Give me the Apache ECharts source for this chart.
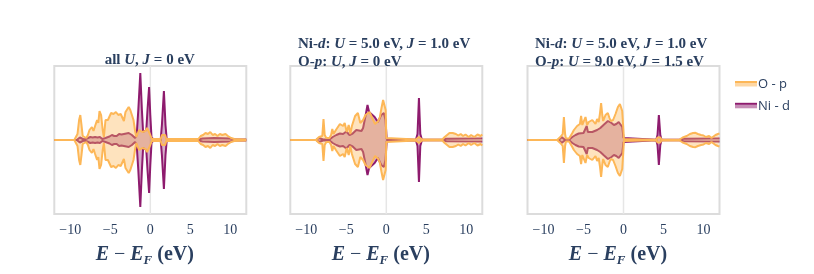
<!DOCTYPE html>
<html><head><meta charset="utf-8">
<script src="https://cdn.jsdelivr.net/npm/echarts@6/dist/echarts.min.js"></script>
<style>html,body{margin:0;padding:0;background:#fff}#c{width:814px;height:274px}</style>
</head><body><div id="c"></div>
<script>
// ---- data: [energy (eV), DOS] pairs; spin-down channel is the mirror ----
const xTickValues = [-10, -5, 0, 5, 10];
const legendNames = ['O - p', 'Ni - d'];

const opDos1 = [[-12,0],[-9.5,0],[-9.3,0.2],[-9.1,0.6],[-8.9,2.0],[-8.75,2.5],[-8.6,1.5],[-8.45,0.4],[-8.3,0.2],[-8.0,0.2],[-7.8,0.5],[-7.6,1.0],[-7.3,1.3],[-7.1,0.9],[-6.9,1.4],[-6.65,2.0],[-6.5,1.7],[-6.35,2.9],[-6.15,2.5],[-5.95,1.0],[-5.8,0.3],[-5.7,0.3],[-5.6,2.0],[-5.3,2.0],[-5.1,2.1],[-4.9,2.7],[-4.6,2.6],[-4.3,2.8],[-4.0,2.5],[-3.7,2.6],[-3.5,2.4],[-3.3,1.9],[-3.1,2.8],[-2.9,3.0],[-2.7,3.3],[-2.5,3.0],[-2.3,3.1],[-2.1,2.0],[-1.9,0.9],[-1.75,0.3],[-1.6,0.5],[-1.4,1.0],[-1.25,1.2],[-1.0,0.8],[-0.8,0.6],[-0.6,0.9],[-0.4,1.2],[-0.2,1.1],[0.0,0.5],[0.2,0.1],[1.3,0.1],[1.45,0.5],[1.65,0.7],[1.85,0.5],[2.0,0.1],[6.0,0.1],[6.3,0.4],[6.6,0.5],[6.9,0.7],[7.2,0.6],[7.5,0.8],[7.8,0.5],[8.1,0.6],[8.4,0.4],[8.7,0.6],[9.0,0.5],[9.4,0.6],[9.7,0.4],[10.1,0.2],[10.5,0.1],[12,0.05]];
const niDos1 = [[-12,0],[-9.2,0],[-9.0,0.1],[-8.8,0.25],[-8.6,0.1],[-8.3,0.05],[-7.9,0.15],[-7.5,0.3],[-7.2,0.25],[-6.9,0.3],[-6.6,0.25],[-6.3,0.3],[-6.0,0.1],[-5.8,0.05],[-5.6,0.2],[-5.4,0.3],[-5.1,0.35],[-4.8,0.5],[-4.5,0.4],[-4.2,0.4],[-3.9,0.6],[-3.6,0.55],[-3.3,0.6],[-3.0,0.65],[-2.7,0.7],[-2.5,0.7],[-2.3,0.5],[-2.1,0.3],[-1.9,0.2],[-1.7,0.5],[-1.5,3.0],[-1.25,6.7],[-1.05,3.0],[-0.9,0.8],[-0.7,0.6],[-0.5,1.0],[-0.35,3.0],[-0.15,5.3],[0.0,2.5],[0.15,0.3],[0.4,0.05],[1.3,0.05],[1.45,1.5],[1.7,4.9],[1.9,1.5],[2.05,0.1],[6.0,0.05],[6.5,0.15],[8,0.2],[10,0.15],[10.5,0.05],[12,0.05]];

const opDos2 = [[-12,0],[-8.8,0],[-8.6,0.15],[-8.4,0.3],[-8.2,0.2],[-8.0,0.4],[-7.85,2.1],[-7.7,0.5],[-7.5,0.2],[-7.1,0.2],[-6.9,0.5],[-6.75,1.1],[-6.6,0.6],[-6.45,0.4],[-6.3,1.0],[-6.05,1.3],[-5.8,1.6],[-5.6,1.8],[-5.4,1.4],[-5.2,1.7],[-4.95,0.8],[-4.7,1.5],[-4.5,0.6],[-4.3,1.4],[-4.1,1.6],[-3.9,2.4],[-3.55,2.7],[-3.25,1.7],[-2.9,2.0],[-2.6,2.5],[-2.4,2.6],[-2.1,2.8],[-1.7,2.1],[-1.4,1.6],[-1.25,1.5],[-1.0,1.9],[-0.8,2.3],[-0.6,3.2],[-0.4,4.0],[-0.2,4.1],[-0.08,3.0],[0.0,0.2],[0.1,0.05],[3.7,0.05],[3.9,0.2],[4.08,0.3],[4.25,0.2],[4.45,0.05],[7.0,0.05],[7.3,0.3],[7.6,0.5],[7.9,0.7],[8.3,0.7],[8.7,0.6],[9.0,0.45],[9.3,0.6],[9.6,0.4],[9.9,0.55],[10.3,0.3],[10.6,0.5],[11.0,0.3],[11.4,0.55],[11.8,0.4],[12,0.55]];
const niDos2 = [[-12,0],[-8.8,0],[-8.55,0.1],[-8.4,0.2],[-8.2,0.1],[-7.9,0.05],[-7.1,0.05],[-6.9,0.15],[-6.7,0.3],[-6.25,0.5],[-5.8,0.65],[-5.4,0.6],[-5.0,0.85],[-4.6,0.5],[-4.2,0.65],[-3.75,1.0],[-3.55,0.8],[-3.1,0.9],[-2.9,1.2],[-2.6,2.4],[-2.35,3.5],[-2.15,2.8],[-1.9,2.9],[-1.46,2.3],[-1.05,1.8],[-0.63,2.5],[-0.3,2.7],[-0.1,2.0],[0.05,0.1],[0.2,0.02],[3.7,0.02],[3.9,0.6],[4.08,4.2],[4.25,0.6],[4.45,0.02],[7.0,0.02],[7.5,0.12],[12,0.15]];

const opDos3 = [[-12,0],[-8.3,0],[-8.1,0.15],[-7.9,0.3],[-7.7,0.25],[-7.6,0.6],[-7.45,2.3],[-7.3,0.6],[-7.2,0.15],[-6.8,0.15],[-6.6,0.3],[-6.4,0.7],[-6.2,1.0],[-6.0,1.2],[-5.8,1.4],[-5.6,1.5],[-5.45,1.6],[-5.3,2.4],[-5.15,1.5],[-5.0,1.4],[-4.75,2.3],[-4.55,1.5],[-4.35,1.8],[-4.1,2.0],[-3.9,2.0],[-3.7,1.8],[-3.5,1.6],[-3.3,2.1],[-3.1,1.8],[-2.95,2.6],[-2.8,3.7],[-2.65,2.5],[-2.54,1.9],[-2.25,2.5],[-1.96,2.7],[-1.75,2.2],[-1.6,1.9],[-1.3,2.0],[-1.0,2.6],[-0.7,3.3],[-0.45,3.6],[-0.3,3.5],[-0.16,2.9],[-0.05,1.5],[0.05,0.1],[0.2,0.03],[4.1,0.03],[4.25,0.25],[4.42,0.35],[4.6,0.25],[4.75,0.03],[7.0,0.05],[7.4,0.25],[7.9,0.4],[8.3,0.6],[8.7,0.7],[9.0,0.72],[9.3,0.6],[9.7,0.5],[10.0,0.45],[10.3,0.3],[10.5,0.15],[10.7,0.4],[10.85,0.55],[11.0,0.2],[11.2,0.15],[11.5,0.5],[11.8,0.6],[12,0.65]];
const niDos3 = [[-12,0],[-8.1,0],[-7.9,0.15],[-7.75,0.3],[-7.55,0.15],[-7.3,0.03],[-6.8,0.03],[-6.6,0.15],[-6.4,0.3],[-6.0,0.5],[-5.6,0.65],[-5.0,0.7],[-4.75,0.8],[-4.6,1.4],[-4.45,0.8],[-4.2,0.7],[-3.9,0.8],[-3.6,0.9],[-3.3,1.0],[-2.9,1.2],[-2.5,1.5],[-2.25,1.7],[-1.95,1.9],[-1.7,2.1],[-1.5,1.7],[-1.2,1.5],[-0.9,1.6],[-0.6,1.8],[-0.35,1.8],[-0.15,1.3],[0.0,0.2],[0.2,0.02],[4.1,0.02],[4.25,0.5],[4.42,2.5],[4.6,0.5],[4.75,0.02],[7.0,0.02],[7.5,0.12],[12,0.15]];

const panelTitles = [
  '{r|all }{i|U}{r|, }{i|J}{r| = 0 eV}',
  '{b|Ni-}{bi|d}{b|:}{r| }{i|U}{r| = 5.0 eV, }{i|J}{r| = 1.0 eV}\n{b|O-}{bi|p}{b|:}{r| }{i|U}{r|, }{i|J}{r| = 0 eV}',
  '{b|Ni-}{bi|d}{b|:}{r| }{i|U}{r| = 5.0 eV, }{i|J}{r| = 1.0 eV}\n{b|O-}{bi|p}{b|:}{r| }{i|U}{r| = 9.0 eV, }{i|J}{r| = 1.5 eV}'
];
const opPanels = [opDos1, opDos2, opDos3];
const niPanels = [niDos1, niDos2, niDos3];

// ---- layout / style ----
const panelLefts = [54.3, 290.3, 527.5];
const titlePos = [[104.7, 51], [298, 35.5], [535, 35.5]];
const gridWidth = 192, gridTop = 66, gridHeight = 148, yMax = 7.4;
const textColor = '#2a3f5f';
const serif = 'Liberation Serif';
const opColor = '#FDB757', opFill = 'rgba(253,183,87,0.55)';
const niColor = '#8E1B6E', niFill = 'rgba(142,27,110,0.5)';
const neg = d => d.map(([e, v]) => [e, -v]);

const tFont = 15;
const titleRich = {
  r: {fontFamily: serif, fontSize: tFont, color: textColor, lineHeight: 17.5},
  i: {fontFamily: serif, fontSize: tFont, color: textColor, lineHeight: 17.5, fontStyle: 'italic'},
  b: {fontFamily: serif, fontSize: tFont, color: textColor, lineHeight: 17.5, fontWeight: 'bold'},
  bi: {fontFamily: serif, fontSize: tFont, color: textColor, lineHeight: 17.5, fontWeight: 'bold', fontStyle: 'italic'}
};
const nameRich = {
  e: {fontFamily: serif, fontSize: 20, color: textColor, fontStyle: 'italic', fontWeight: 'bold', lineHeight: 24},
  m: {fontFamily: serif, fontSize: 20, color: textColor, lineHeight: 24},
  s: {fontFamily: serif, fontSize: 13, color: textColor, fontStyle: 'italic', fontWeight: 'bold', verticalAlign: 'bottom', lineHeight: 18},
  n: {fontFamily: serif, fontSize: 20, color: textColor, fontWeight: 'bold', lineHeight: 24}
};

const grids = [], xAxes = [], yAxes = [], series = [], titles = [];
for (let i = 0; i < 3; i++) {
  grids.push({left: panelLefts[i], top: gridTop, width: gridWidth, height: gridHeight,
    show: true, borderColor: '#dcdcdc', borderWidth: 2, backgroundColor: 'transparent'});
  xAxes.push({type: 'value', gridIndex: i, min: -12, max: 12,
    axisLine: {show: false}, axisTick: {show: false}, splitLine: {show: false},
    axisLabel: {customValues: xTickValues, formatter: v => String(v).replace('-', '\u2212'),
      color: textColor, fontFamily: serif, fontSize: 14, margin: 9},
    name: '{e|E}{m| \u2212 }{e|E}{s|F}{n| (eV)}', nameLocation: 'middle', nameGap: 29,
    nameTextStyle: {rich: nameRich, padding: [0, 11, 0, 0]}});
  yAxes.push({type: 'value', gridIndex: i, min: -yMax, max: yMax, show: false});
  series.push({name: 'E_F', type: 'line', xAxisIndex: i, yAxisIndex: i, data: [[0, -yMax], [0, yMax]],
    showSymbol: false, silent: true, z: 1, lineStyle: {color: '#e6e6e6', width: 1.5}});
  [niPanels[i], neg(niPanels[i])].forEach(d => series.push({name: 'Ni - d', type: 'line',
    xAxisIndex: i, yAxisIndex: i, data: d, showSymbol: false, z: 2,
    lineStyle: {color: niColor, width: 2}, itemStyle: {color: niColor}, areaStyle: {color: niFill}}));
  [opPanels[i], neg(opPanels[i])].forEach(d => series.push({name: 'O - p', type: 'line',
    xAxisIndex: i, yAxisIndex: i, data: d, showSymbol: false, z: 3,
    lineStyle: {color: opColor, width: 2}, itemStyle: {color: opColor}, areaStyle: {color: opFill}}));
  titles.push({text: panelTitles[i], left: titlePos[i][0], top: titlePos[i][1], padding: 0,
    textStyle: {rich: titleRich}});
}

const chart = echarts.init(document.getElementById('c'));
chart.setOption({
  animation: false,
  title: titles,
  grid: grids, xAxis: xAxes, yAxis: yAxes, series: series,
  legend: {data: [{name: legendNames[0], itemStyle: {color: 'rgba(0,0,0,0)'}}, {name: legendNames[1], itemStyle: {color: 'rgba(0,0,0,0)'}}],
    orient: 'vertical', left: 735, top: 77.3, padding: 0, icon: 'rect', itemWidth: 18, itemHeight: 2, itemGap: 9,
    itemStyle: {borderWidth: 0}, lineStyle: {width: 0},
    textStyle: {fontFamily: 'Open Sans', fontSize: 13, color: textColor}},
  graphic: [
    {type: 'rect', shape: {x: 735, y: 81, width: 22, height: 2}, style: {fill: opColor}, silent: true, z: 10},
    {type: 'rect', shape: {x: 735, y: 83, width: 22, height: 3.5}, style: {fill: opFill}, silent: true, z: 10},
    {type: 'rect', shape: {x: 735, y: 102.8, width: 22, height: 2}, style: {fill: niColor}, silent: true, z: 10},
    {type: 'rect', shape: {x: 735, y: 104.8, width: 22, height: 3.5}, style: {fill: niFill}, silent: true, z: 10}
  ]
});
</script></body></html>
